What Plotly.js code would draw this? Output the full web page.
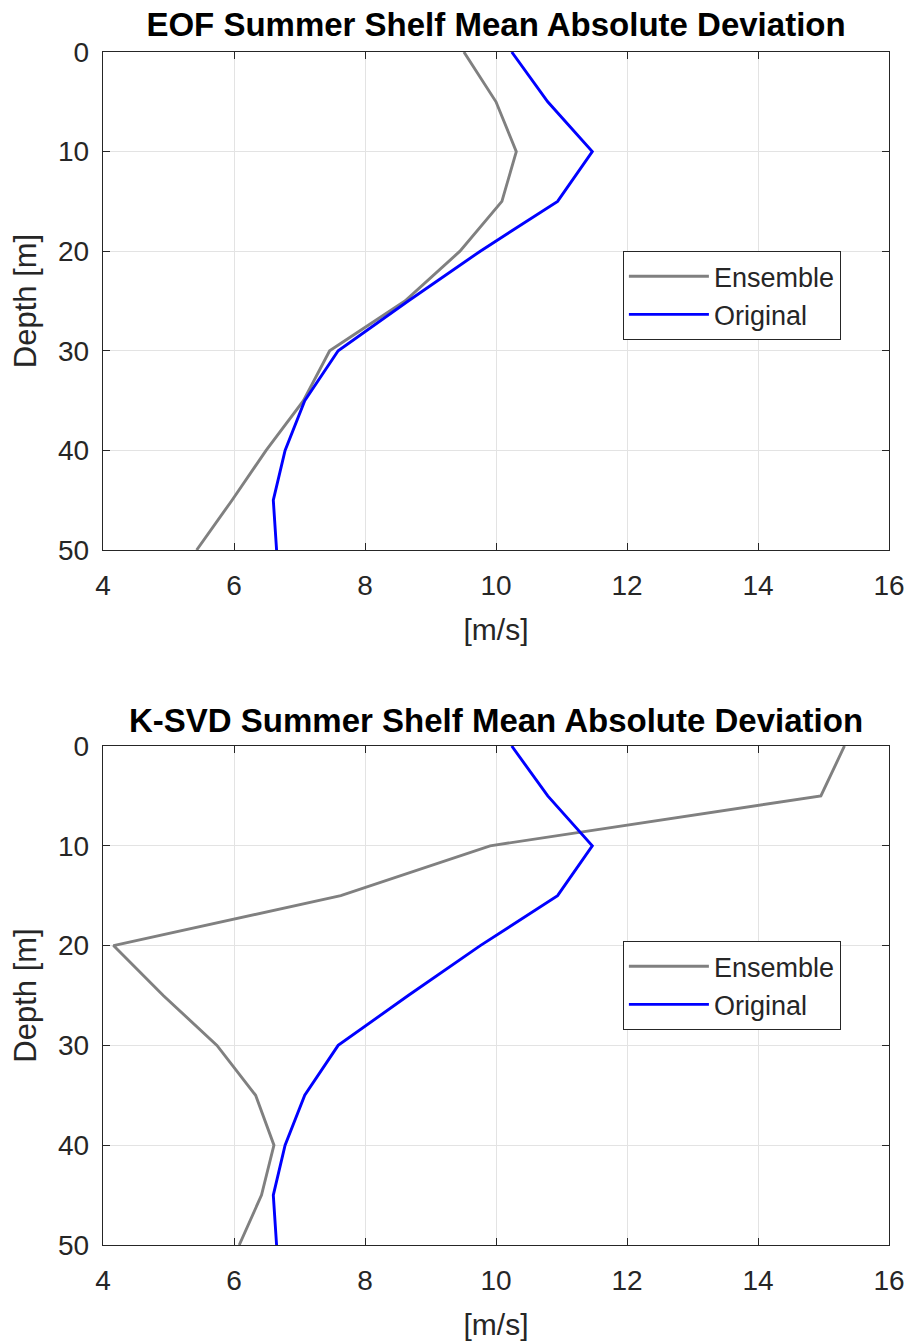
<!DOCTYPE html>
<html>
<head>
<meta charset="utf-8">
<script src="https://cdn.plot.ly/plotly-3.0.1.min.js"></script>
<style>html,body{margin:0;padding:0;background:#fff;}#chart{width:911px;height:1344px;}</style>
</head>
<body>
<div id="chart"></div>
<script>
const depth = [0, 5, 10, 15, 20, 25, 30, 35, 40, 45, 50];
const ensembleEOF = [9.51, 10.0, 10.31, 10.09, 9.45, 8.61, 7.46, 7.06, 6.49, 5.97, 5.43];
const originalEOF = [10.24, 10.79, 11.47, 10.94, 9.76, 8.66, 7.59, 7.08, 6.78, 6.60, 6.65];
const ensembleKSVD = [15.32, 14.96, 9.91, 7.63, 4.16, 4.92, 5.74, 6.33, 6.61, 6.42, 6.08];
const originalKSVD = [10.24, 10.79, 11.47, 10.94, 9.76, 8.66, 7.59, 7.08, 6.78, 6.60, 6.65];
const xTicks = [4, 6, 8, 10, 12, 14, 16];
const yTicks = [0, 10, 20, 30, 40, 50];
const titles = ["EOF Summer Shelf Mean Absolute Deviation", "K-SVD Summer Shelf Mean Absolute Deviation"];
const seriesNames = ["Ensemble", "Original"];

const FONT = "Liberation Sans, Arial, Helvetica, sans-serif";
const GRAY = "#808080", BLUE = "#0000ff", DARK = "#262626";

const traces = [
  {x: ensembleEOF, y: depth, name: seriesNames[0], mode: "lines", line: {color: GRAY, width: 2.9}, xaxis: "x", yaxis: "y", legend: "legend"},
  {x: originalEOF, y: depth, name: seriesNames[1], mode: "lines", line: {color: BLUE, width: 2.9}, xaxis: "x", yaxis: "y", legend: "legend"},
  {x: ensembleKSVD, y: depth, name: seriesNames[0], mode: "lines", line: {color: GRAY, width: 2.9}, xaxis: "x2", yaxis: "y2", legend: "legend2"},
  {x: originalKSVD, y: depth, name: seriesNames[1], mode: "lines", line: {color: BLUE, width: 2.9}, xaxis: "x2", yaxis: "y2", legend: "legend2"}
];

function xax(anchor) {
  return {
    domain: [103/911, 889/911], anchor: anchor, range: [4, 16], tickvals: xTicks,
    ticks: "inside", ticklen: 7, tickcolor: DARK, showline: true, linecolor: DARK, linewidth: 1.3,
    mirror: "ticks", showgrid: true, gridcolor: "#e3e3e3", gridwidth: 1, zeroline: false,
    tickfont: {family: FONT, size: 28, color: DARK}, ticklabelstandoff: 10,
    title: {text: "[m/s]", font: {family: FONT, size: 30, color: DARK}, standoff: 19}
  };
}
function yax(anchor, dom) {
  return {
    domain: dom, anchor: anchor, range: [50, 0], tickvals: yTicks,
    ticks: "inside", ticklen: 7, tickcolor: DARK, showline: true, linecolor: DARK, linewidth: 1.3,
    mirror: "ticks", showgrid: true, gridcolor: "#e3e3e3", gridwidth: 1, zeroline: false,
    tickfont: {family: FONT, size: 28, color: DARK}, ticklabelstandoff: 7,
    title: {text: "Depth [m]", font: {family: FONT, size: 31, color: DARK}, standoff: 12}
  };
}
function leg(ytop) {
  return {
    x: 622.7/911, y: ytop, xanchor: "left", yanchor: "top", xref: "paper", yref: "paper",
    bgcolor: "#ffffff", bordercolor: DARK, borderwidth: 1.2,
    font: {family: FONT, size: 27, color: DARK}, itemwidth: 80, tracegroupgap: 0
  };
}

const layout = {
  width: 911, height: 1344, paper_bgcolor: "#fff", plot_bgcolor: "#fff",
  margin: {l: 0, r: 0, t: 0, b: 0},
  showlegend: true,
  title: {text: titles[0], font: {family: FONT, size: 33, color: "#000", weight: "bold"}, x: 496/911, xanchor: "center", y: 1 - 24/1344, yanchor: "middle", xref: "paper", yref: "paper"},
  xaxis: xax("y"),
  yaxis: yax("x", [1 - 550/1344, 1 - 52/1344]),
  xaxis2: xax("y2"),
  yaxis2: yax("x2", [1 - 1245/1344, 1 - 746/1344]),
  legend: leg(1 - 251/1344),
  legend2: leg(1 - 941/1344),
  annotations: [
    {text: "<b>" + titles[1] + "</b>", xref: "paper", yref: "paper", x: 496/911, y: 1 - 720/1344, xanchor: "center", yanchor: "middle", showarrow: false, font: {family: FONT, size: 33, color: "#000"}}
  ]
};

Plotly.newPlot("chart", traces, layout, {displayModeBar: false, staticPlot: true});
</script>
</body>
</html>
